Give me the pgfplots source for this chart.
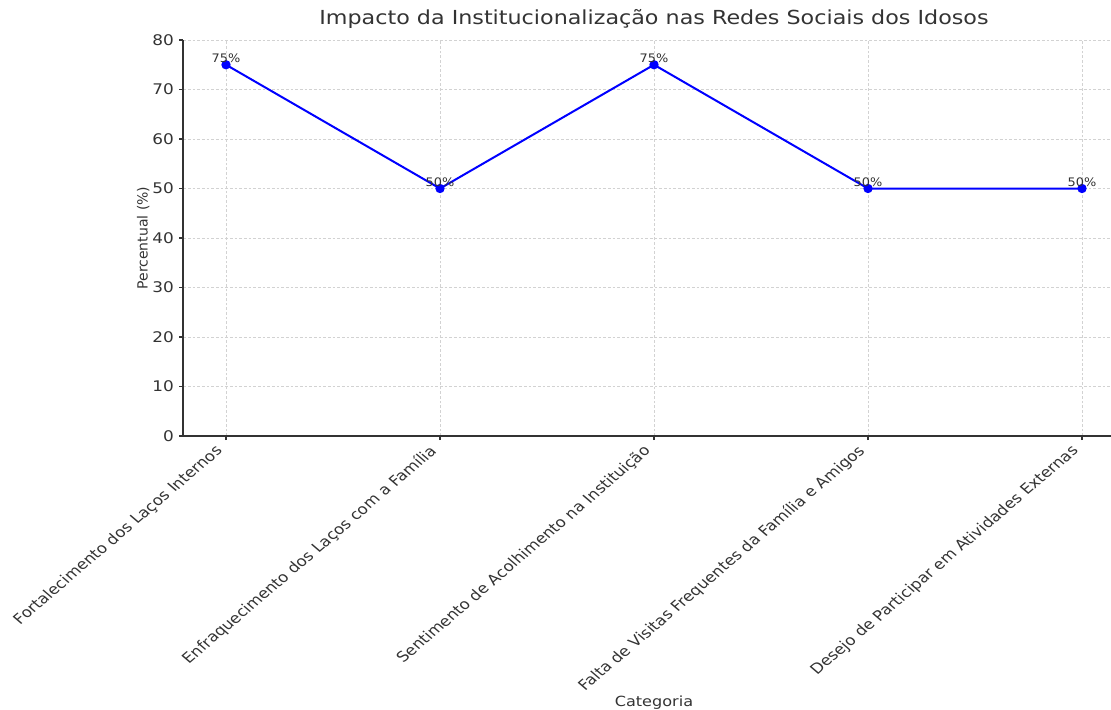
\documentclass[border=0pt]{standalone}
\usepackage{fontspec}
\setmainfont{DejaVu Sans}
\usepackage{pgfplots}
\pgfplotsset{compat=1.18}

\definecolor{txt}{HTML}{333333}
\definecolor{spine}{HTML}{333333}

\begin{document}
\begin{tikzpicture}
\begin{axis}[
  at={(0,0)}, anchor=south west,
  scale only axis, width=695.85pt, height=297pt,
  xmin=-0.2, xmax=4.1355, ymin=0, ymax=80,
  axis x line*=bottom, axis y line*=left,
  axis line style={spine, line width=1.1pt},
  clip=false,
  xtick={0,1,2,3,4},
  xticklabels={Fortalecimento dos Laços Internos,
    Enfraquecimento dos Laços com a Família,
    Sentimento de Acolhimento na Instituição,
    Falta de Visitas Frequentes da Família e Amigos,
    Desejo de Participar em Atividades Externas},
  ytick={0,10,...,80},
  x tick label style={xshift=-9pt, yshift=2pt, xscale=1.17, rotate=45, anchor=north east, font=\fontsize{10.7}{13}\selectfont, text=txt},
  y tick label style={xscale=1.15, font=\fontsize{11}{13}\selectfont, text=txt},
  /pgf/number format/assume math mode=true,
  tick align=outside, major tick length=3pt,
  tick style={spine, line width=0.8pt},
  grid=major,
  major grid style={gray!35, dash pattern=on 2pt off 1.5pt, line width=0.5pt},
  title={Impacto da Institucionalização nas Redes Sociais dos Idosos},
  title style={at={(axis description cs:0.5074,1.033)}, anchor=center, xscale=1.15, font=\fontsize{14.5}{17}\selectfont, text=txt},
  xlabel={Categoria},
  xlabel style={at={(axis description cs:0.5074,-0.674)}, anchor=center, xscale=1.15, font=\fontsize{10.5}{12}\selectfont, text=txt},
  ylabel={Percentual (\%)},
  ylabel style={at={(axis description cs:-0.0431,0.5)}, anchor=center, font=\fontsize{10.5}{12}\selectfont, text=txt},
  nodes near coords={\pgfmathprintnumber{\pgfplotspointmeta}\%},
  every node near coord/.append style={anchor=south, inner sep=0pt, yshift=0.5pt, xscale=1.1, font=\fontsize{8.8}{10}\selectfont, text=txt},
]
\addplot[blue, line width=1.5pt, mark=*, mark size=2.7pt, mark options={fill=blue}] coordinates {
  (0,75) (1,50) (2,75) (3,50) (4,50)
};
\end{axis}
\pgfresetboundingbox
\path[use as bounding box] (-137.4pt,-205.5pt) rectangle (695.85pt,327pt);
\end{tikzpicture}
\end{document}
